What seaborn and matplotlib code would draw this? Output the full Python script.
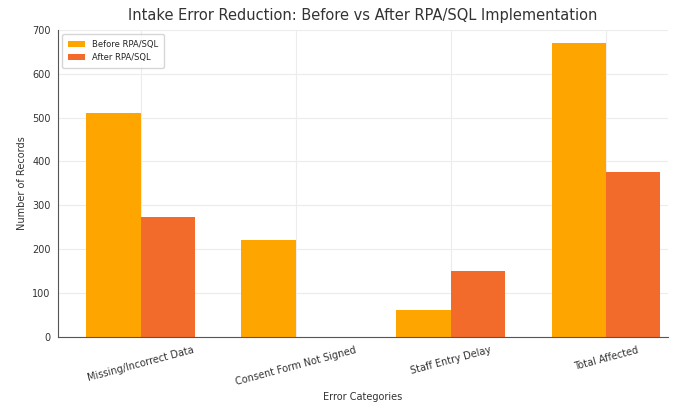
import pandas as pd
import matplotlib
matplotlib.use('Agg')
import matplotlib.pyplot as plt
import seaborn as sns

# ==================== 数据 ====================
categories = ['Missing/Incorrect Data', 'Consent Form Not Signed', 'Staff Entry Delay', 'Total Affected']
before_vals = [510, 222, 61, 670]
after_vals = [273, 0, 151, 375]
series_names = ['Before RPA/SQL', 'After RPA/SQL']
colors = ['#FFA500', '#F26B2A']

df = pd.DataFrame({
    'category': categories * 2,
    'records': before_vals + after_vals,
    'stage': [series_names[0]] * len(categories) + [series_names[1]] * len(categories),
})

sns.set_style('whitegrid')
plt.rcParams['font.family'] = ['DejaVu Sans']

fig = plt.figure(figsize=(6.78, 4.07), dpi=100)
ax = fig.add_axes([0.086, 0.172, 0.899, 0.755])

sns.barplot(data=df, x='category', y='records', hue='stage', palette=colors,
            width=0.7, saturation=1, ax=ax, errorbar=None, linewidth=0)

ax.set_xlim(-0.53, 3.4)
ax.set_ylim(0, 700)
ax.grid(True, color='#ececec', linewidth=0.8)
ax.set_axisbelow(True)
for s in ['top', 'right']:
    ax.spines[s].set_visible(False)
for s in ['left', 'bottom']:
    ax.spines[s].set_color('#555555')
    ax.spines[s].set_linewidth(0.8)

ax.set_title('Intake Error Reduction: Before vs After RPA/SQL Implementation',
             fontsize=10.5, color='#333333', pad=7)
ax.set_xlabel('Error Categories', fontsize=7, color='#333333')
ax.set_ylabel('Number of Records', fontsize=7, color='#333333')
ax.tick_params(axis='both', labelsize=7, colors='#333333', length=2)
plt.setp(ax.get_xticklabels(), rotation=15)

ax.legend(loc='upper left', fontsize=6, frameon=True, title=None,
          handlelength=2, borderpad=0.7)

fig.savefig('out.png', dpi=100)
